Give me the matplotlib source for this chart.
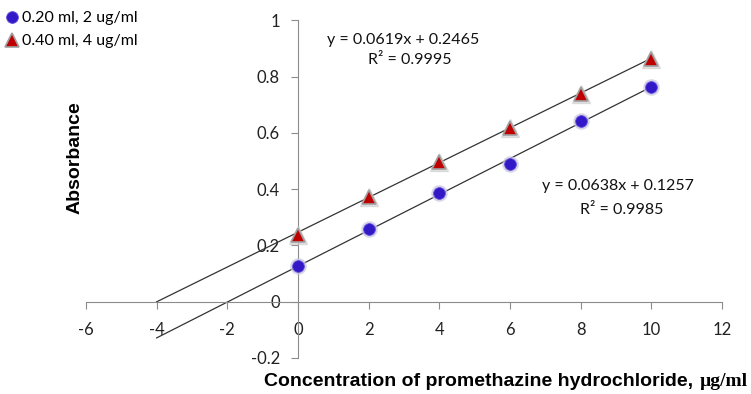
import matplotlib.pyplot as plt
import numpy as np

# data
conc = [0, 2, 4, 6, 8, 10]
abs_2ug = [0.125, 0.258, 0.385, 0.490, 0.643, 0.763]
abs_4ug = [0.237, 0.371, 0.498, 0.618, 0.738, 0.862]
labels = ['0.20 ml, 2 ug/ml', '0.40 ml, 4 ug/ml']
fit_2ug = (0.0638, 0.1257)
fit_4ug = (0.0619, 0.2465)
eq_2ug = ['y = 0.0638x + 0.1257', 'R² = 0.9985']
eq_4ug = ['y = 0.0619x + 0.2465', 'R² = 0.9995']
xticks = [-6, -4, -2, 0, 2, 4, 6, 8, 10, 12]
yticks = [-0.2, 0, 0.2, 0.4, 0.6, 0.8, 1]
ytick_labels = ['-0.2', '0', '0.2', '0.4', '0.6', '0.8', '1']

plt.rcParams['font.family'] = ['Lato', 'DejaVu Sans']
plt.rcParams['axes.unicode_minus'] = False

fig = plt.figure(figsize=(7.51, 3.94), dpi=100)
ax = fig.add_axes([0.1145, 0.0921, 0.8469, 0.856])
ax.set_xlim(-6, 12)
ax.set_ylim(-0.2, 1)

# trendlines with backward forecast to x = -4
xl = np.array([-4, 10])
ax.plot(xl, fit_2ug[0] * xl + fit_2ug[1], color='#333333', lw=0.9, zorder=2)
ax.plot(xl, fit_4ug[0] * xl + fit_4ug[1], color='#333333', lw=0.9, zorder=2)

# soft glow behind markers
ax.plot(conc, abs_2ug, 'o', ms=11, color='#c8c8e0', alpha=0.6, zorder=3)
ax.plot(conc, abs_4ug, '^', ms=13, color='#cccccc', alpha=0.6, zorder=3)
h1, = ax.plot(conc, abs_2ug, 'o', ms=8.5, color='#3318c8', mec='#6655dd', mew=0.6,
              zorder=4, label=labels[0])
h2, = ax.plot(conc, abs_4ug, '^', ms=9.5, color='#c00000', mec='#a0a0a0', mew=1.2,
              zorder=4, label=labels[1])

# axes crossing at zero
for s in ['top', 'right']:
    ax.spines[s].set_color('none')
ax.spines['bottom'].set_position(('data', 0))
ax.spines['left'].set_position(('data', 0))
ax.spines['bottom'].set_color('#8c8c8c')
ax.spines['left'].set_color('#8c8c8c')
ax.xaxis.set_ticks_position('bottom')
ax.yaxis.set_ticks_position('left')
ax.set_xticks(xticks)
ax.set_yticks(yticks)
ax.set_yticklabels(ytick_labels)
ax.tick_params(axis='both', direction='out', length=5, color='#8c8c8c',
               labelsize=12, labelcolor='#222222')
ax.tick_params(axis='x', pad=10)
ax.tick_params(axis='y', pad=8)

# equations
fig.text(403 / 751, 1 - 40 / 394, eq_4ug[0], ha='center', va='center',
         fontsize=11.5, color='#111111')
fig.text(410 / 751, 1 - 60 / 394, eq_4ug[1], ha='center', va='center',
         fontsize=11.5, color='#111111')
fig.text(618 / 751, 1 - 186 / 394, eq_2ug[0], ha='center', va='center',
         fontsize=11.5, color='#111111')
fig.text(622 / 751, 1 - 210 / 394, eq_2ug[1], ha='center', va='center',
         fontsize=11.5, color='#111111')

# axis titles
fig.text(75 / 751, 1 - 158 / 394, 'Absorbance', rotation=90, ha='center', va='center',
         fontsize=14, fontweight='bold', family=['Liberation Sans', 'DejaVu Sans'])
unit = fig.text(748 / 751, 1 - 381 / 394, 'µg/ml', ha='right', va='center',
                fontsize=14, fontweight='bold', family=['Liberation Serif', 'DejaVu Serif'])
fig.canvas.draw()
bb = unit.get_window_extent()
fig.text((bb.x0 - 1) / 751, 1 - 381 / 394, 'Concentration of promethazine hydrochloride, ',
         ha='right', va='center', fontsize=14, fontweight='bold',
         family=['Liberation Sans', 'DejaVu Sans'])

# legend top-left
fig.legend(handles=[h1, h2], loc='upper left', bbox_to_anchor=(-0.005, 1.0),
           frameon=False, fontsize=11.5, handlelength=0.6, handletextpad=0.3,
           labelspacing=0.55, borderaxespad=0.3)

fig.savefig('out.png', dpi=100)
